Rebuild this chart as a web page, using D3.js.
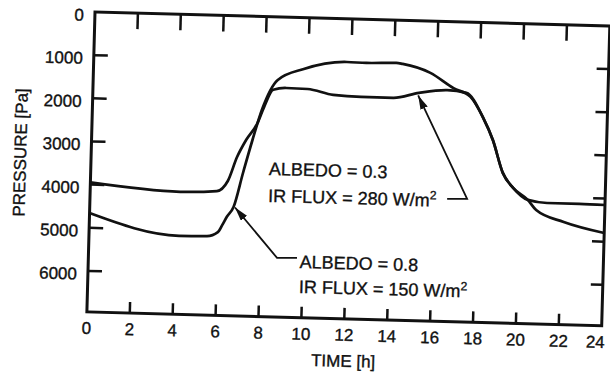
<!DOCTYPE html>
<html>
<head>
<meta charset="utf-8">
<script src="https://cdn.jsdelivr.net/npm/d3@7"></script>
<style>
  body { margin: 0; background: #fff; }
  svg { display: block; }
  text { font-family: "Liberation Sans", Arial, Helvetica, sans-serif; fill: #111; stroke: #111; stroke-width: 0.35px; }
</style>
</head>
<body>
<div id="chart"></div>
<script>
// tick values
const hourTicks = [0, 2, 4, 6, 8, 10, 12, 14, 16, 18, 20, 22, 24];
const pressureTicks = [0, 1000, 2000, 3000, 4000, 5000, 6000];

// ALBEDO = 0.3, IR FLUX = 280 W/m2
const hoursLowAlbedo = [0, 4.2, 5.9, 6.4, 6.8, 7.2, 7.7, 8.0, 8.4, 9.0, 10.0, 11.2, 12.5, 14.0, 15.2, 16.5, 17.4, 18.2, 18.7, 19.2, 19.7, 20.4, 21.3, 22.8, 24];
const pressureLowAlbedo = [3950, 4110, 4070, 3830, 3270, 2870, 2480, 2090, 1690, 1640, 1650, 1770, 1800, 1800, 1670, 1590, 1640, 2190, 2720, 3470, 3810, 4080, 4140, 4140, 4150];

// ALBEDO = 0.8, IR FLUX = 150 W/m2
const hoursHighAlbedo = [0, 4.2, 5.5, 6.0, 6.2, 6.4, 6.7, 7.1, 7.5, 7.9, 8.6, 9.8, 11.8, 12.7, 14.1, 14.4, 15.7, 16.8, 17.6, 18.2, 18.7, 19.2, 19.7, 20.4, 20.8, 22.1, 24];
const pressureHighAlbedo = [4660, 5130, 5120, 5020, 4850, 4660, 4430, 3630, 2860, 2160, 1460, 1190, 1000, 1010, 990, 1010, 1200, 1540, 1730, 2190, 2720, 3470, 3810, 4080, 4310, 4570, 4800];

// annotation text and where it sits / points (hours, Pa)
const noteLowAlbedo = ["ALBEDO = 0.3", "IR FLUX = 280 W/m"];
const noteHighAlbedo = ["ALBEDO = 0.8", "IR FLUX = 150 W/m"];
const noteLowAt = [[8.3, 3665], [8.3, 4290]];
const noteHighAt = [[9.85, 5800], [9.85, 6377]];
const leaderLow = [[16.64, 4109], [17.57, 4096], [15.16, 1730]];
const leaderHigh = [[9.72, 5568], [8.79, 5580], [6.77, 4440]];

const width = 610, height = 374;
const W = 515, H = 300;
const tilt = 1.55; // the scanned page sits slightly crooked

const svg = d3.select("#chart").append("svg")
  .attr("width", width)
  .attr("height", height);

svg.append("defs").append("marker")
  .attr("id", "arrow")
  .attr("viewBox", "0 0 14 8")
  .attr("refX", 14).attr("refY", 4)
  .attr("markerWidth", 14).attr("markerHeight", 8)
  .attr("markerUnits", "userSpaceOnUse")
  .attr("orient", "auto")
  .append("path")
  .attr("d", "M0,0 L14,4 L0,8 Z")
  .attr("fill", "#111");

const g = svg.append("g")
  .attr("transform", `translate(95,12) rotate(${tilt})`);

const x = d3.scaleLinear().domain([0, 24]).range([0, W]);
const y = d3.scaleLinear().domain([0, 6950]).range([0, H]);

// frame
g.append("rect")
  .attr("width", W).attr("height", H)
  .attr("fill", "none")
  .attr("stroke", "#111")
  .attr("stroke-width", 3);

// ticks on all four sides, pointing inward
const innerHours = hourTicks.filter((h) => h > 0 && h < 24);
const innerPressure = pressureTicks.filter((p) => p > 0);

g.append("g").selectAll("line").data(innerHours).enter().append("line")
  .attr("x1", (h) => x(h)).attr("x2", (h) => x(h))
  .attr("y1", 0).attr("y2", 16)
  .attr("stroke", "#111").attr("stroke-width", 2.5);
g.append("g").selectAll("line").data(innerHours).enter().append("line")
  .attr("x1", (h) => x(h)).attr("x2", (h) => x(h))
  .attr("y1", H).attr("y2", H - 11)
  .attr("stroke", "#111").attr("stroke-width", 2.5);
g.append("g").selectAll("line").data(innerPressure).enter().append("line")
  .attr("x1", 0).attr("x2", 14)
  .attr("y1", (p) => y(p)).attr("y2", (p) => y(p))
  .attr("stroke", "#111").attr("stroke-width", 2.5);
g.append("g").selectAll("line").data(innerPressure).enter().append("line")
  .attr("x1", W).attr("x2", W - 12)
  .attr("y1", (p) => y(p)).attr("y2", (p) => y(p))
  .attr("stroke", "#111").attr("stroke-width", 2.5);

// tick labels
g.append("g").selectAll("text").data(hourTicks).enter().append("text")
  .attr("x", (h) => x(h) - (h === 24 ? 6 : 0))
  .attr("y", H + 22)
  .attr("text-anchor", "middle")
  .attr("font-size", 17)
  .text((h) => h);
g.append("g").selectAll("text").data(pressureTicks).enter().append("text")
  .attr("x", -11)
  .attr("y", (p) => y(p) + 3)
  .attr("dy", "0.35em")
  .attr("text-anchor", "end")
  .attr("font-size", 17)
  .text((p) => p);

// axis titles
g.append("text")
  .attr("x", W / 2)
  .attr("y", H + 48)
  .attr("text-anchor", "middle")
  .attr("font-size", 17)
  .text("TIME [h]");
g.append("text")
  .attr("transform", `translate(-65,${y(3300)}) rotate(-90)`)
  .attr("text-anchor", "middle")
  .attr("font-size", 17)
  .text("PRESSURE [Pa]");

// curves
const line = d3.line()
  .x((d) => x(d[0]))
  .y((d) => y(d[1]))
  .curve(d3.curveMonotoneX);

const series = [
  d3.zip(hoursLowAlbedo, pressureLowAlbedo),
  d3.zip(hoursHighAlbedo, pressureHighAlbedo),
];
g.append("g").selectAll("path").data(series).enter().append("path")
  .attr("d", line)
  .attr("fill", "none")
  .attr("stroke", "#111")
  .attr("stroke-width", 2.7)
  .attr("stroke-linejoin", "round");

// leaders with arrow heads
const leader = d3.line().x((d) => x(d[0])).y((d) => y(d[1]));
g.append("g").selectAll("path").data([leaderLow, leaderHigh]).enter().append("path")
  .attr("d", leader)
  .attr("fill", "none")
  .attr("stroke", "#111")
  .attr("stroke-width", 1.8)
  .attr("marker-end", "url(#arrow)");

// notes
function drawNote(lines, at) {
  lines.forEach((txt, i) => {
    const t = g.append("text")
      .attr("x", x(at[i][0]))
      .attr("y", y(at[i][1]))
      .attr("font-size", 18);
    t.append("tspan").text(txt);
    if (i === 1) {
      t.append("tspan")
        .attr("font-size", 12)
        .attr("dy", -7)
        .text("2");
    }
  });
}
drawNote(noteLowAlbedo, noteLowAt);
drawNote(noteHighAlbedo, noteHighAt);
</script>
</body>
</html>
